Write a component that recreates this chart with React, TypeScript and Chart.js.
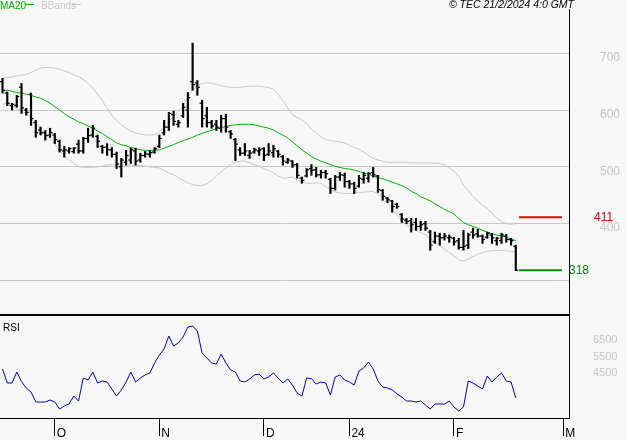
import { useEffect, useRef } from 'react';
import { Chart, registerables } from 'chart.js';

Chart.register(...registerables);

// ---- Data (trading-day index 0..108, mid-Sep 2023 to 20 Feb 2024) ----
const highs = [
  656, 632, 612, 626, 647, 603, 630, 582, 570, 564,
  568, 559, 547, 536, 534, 534, 547, 552, 568, 573,
  556, 538, 541, 534, 526, 515, 529, 533, 533, 524,
  527, 529, 534, 556, 582, 596, 598, 582, 612, 631,
  718, 652, 617, 605, 582, 582, 591, 593, 564, 550,
  534, 541, 529, 533, 534, 534, 541, 538, 529, 520,
  515, 511, 506, 482, 497, 504, 499, 494, 494, 480,
  485, 490, 489, 476, 473, 485, 490, 490, 499, 485,
  460, 446, 441, 436, 418, 409, 409, 409, 404, 404,
  388, 385, 383, 383, 380, 376, 374, 388, 383, 392,
  390, 380, 385, 383, 376, 383, 381, 374, 362,
];
const lows = [
  630, 608, 600, 605, 594, 591, 573, 552, 556, 547,
  552, 541, 526, 517, 524, 524, 524, 524, 543, 552,
  534, 524, 520, 517, 497, 482, 503, 506, 503, 508,
  517, 517, 524, 534, 556, 564, 573, 570, 587, 570,
  635, 626, 570, 570, 568, 564, 561, 561, 550, 511,
  520, 520, 515, 524, 520, 511, 520, 517, 517, 503,
  506, 499, 480, 471, 482, 485, 482, 480, 480, 453,
  459, 476, 464, 462, 453, 464, 471, 473, 482, 455,
  441, 437, 420, 427, 402, 400, 385, 388, 388, 388,
  353, 365, 362, 371, 367, 362, 355, 353, 356, 374,
  376, 365, 374, 365, 362, 365, 367, 362, 317,
];
const opens = [
  650, 630, 608, 608, 640, 600, 628, 578, 565, 560,
  556, 556, 545, 528, 528, 527, 540, 528, 550, 556,
  554, 536, 535, 530, 522, 500, 508, 512, 528, 512,
  520, 522, 526, 536, 560, 570, 592, 575, 590, 600,
  650, 648, 612, 590, 578, 575, 568, 585, 562, 548,
  530, 524, 520, 526, 528, 532, 522, 525, 528, 518,
  508, 510, 504, 480, 484, 497, 495, 486, 490, 478,
  462, 482, 485, 474, 470, 466, 478, 480, 490, 484,
  458, 445, 440, 434, 416, 406, 405, 402, 395, 400,
  385, 368, 378, 375, 375, 374, 370, 358, 362, 385,
  382, 378, 376, 380, 370, 370, 378, 372, 360,
];
const closes = [
  635, 612, 610, 624, 604, 596, 585, 560, 560, 555,
  560, 548, 530, 530, 532, 533, 528, 550, 555, 568,
  545, 534, 530, 522, 505, 512, 520, 530, 510, 520,
  523, 525, 532, 550, 570, 594, 580, 578, 605, 622,
  645, 640, 585, 578, 572, 570, 585, 570, 558, 540,
  524, 528, 524, 530, 530, 520, 528, 532, 522, 510,
  512, 503, 485, 476, 495, 494, 486, 490, 488, 462,
  482, 486, 474, 470, 462, 480, 485, 488, 486, 460,
  448, 442, 430, 430, 408, 404, 398, 395, 398, 392,
  362, 378, 375, 378, 376, 368, 358, 360, 380, 380,
  378, 372, 383, 375, 374, 380, 372, 370, 318,
];
const ma20 = [
  634, 635, 633, 631, 630, 628, 626, 623, 621, 617,
  612, 606, 600, 594, 588, 584, 579, 576, 572, 568,
  563, 559, 553, 548, 542, 539, 537, 534, 532, 530,
  529, 529, 529, 530, 533, 536, 539, 543, 546, 549,
  552, 556, 559, 562, 564, 567, 569, 571, 573, 574,
  575, 575, 575, 574, 572, 570, 568, 565, 560, 556,
  551, 544, 537, 530, 524, 518, 514, 510, 507, 504,
  501, 499, 497, 496, 494, 492, 489, 487, 484, 481,
  479, 476, 473, 470, 467, 463, 457, 453, 447, 444,
  440, 435, 430, 425, 421, 417, 409, 402, 398, 395,
  392, 388, 385, 382, 380, 378, 376, 373, 370,
];
const bbUpper = [
  656, 657, 658, 660, 661, 663, 666, 670, 674, 675,
  675, 674, 672, 669, 666, 662, 659, 654, 647, 639,
  628, 617, 603, 591, 582, 574, 568, 563, 560, 558,
  556, 556, 557, 561, 570, 580, 589, 597, 608, 623,
  635, 643, 647, 648, 647, 645, 643, 641, 640, 640,
  640, 641, 642, 642, 642, 641, 640, 637, 628, 617,
  604, 592, 587, 583, 576, 567, 560, 553, 548, 546,
  545, 544, 542, 538, 534, 531, 526, 520, 515, 512,
  510, 508, 508, 508, 508, 508, 507, 507, 507, 507,
  507, 506, 506, 503, 498, 492, 484, 468, 458, 448,
  440, 432, 427, 418, 410, 403, 400, 399, 400,
];
const bbLower = [
  610, 612, 607, 602, 599, 593, 585, 576, 567, 559,
  550, 540, 529, 519, 512, 506, 500, 499, 499, 499,
  500, 501, 503, 504, 503, 503, 503, 503, 503, 502,
  501, 500, 499, 498, 494, 489, 486, 481, 476, 472,
  469, 467, 467, 470, 476, 484, 491, 498, 504, 508,
  510, 510, 507, 504, 501, 497, 494, 489, 484, 480,
  481, 482, 477, 473, 471, 471, 472, 471, 465, 460,
  456, 454, 453, 453, 454, 455, 455, 456, 457, 452,
  445, 436, 425, 415, 405, 397, 393, 388, 384, 380,
  374, 368, 362, 355, 349, 343, 336, 334, 338, 342,
  346, 349, 351, 352, 353, 353, 352, 351, 350,
];
const rsi = [
  47.6, 39.2, 39.2, 45.8, 40, 36.2, 33.8, 27.8, 27.8, 27.8,
  29, 27.8, 23.6, 25.4, 26.6, 31.4, 28.4, 42.2, 41, 45.8,
  39.2, 40.4, 39.8, 35.6, 31.4, 35, 39.8, 45.8, 39.8, 42.2,
  44, 45.2, 51.2, 56, 59.6, 67.4, 61.4, 63.2, 66.8, 72.8,
  73.4, 70.4, 57.2, 54.2, 51.2, 50.6, 56.6, 51.2, 47, 45.8,
  40.4, 39.8, 41.6, 44, 44.6, 41.6, 42.8, 45.2, 42.2, 39.2,
  41.6, 38, 33.2, 31.4, 42.2, 41.8, 38.6, 39.8, 39.2, 32,
  42.8, 44, 41, 39.8, 38, 46.4, 48.2, 51.8, 47.6, 40.4,
  36.8, 36.2, 35, 32.6, 30.8, 28.4, 28.4, 27.8, 28.4, 26,
  23.6, 26.6, 26.6, 26.6, 28.4, 24.8, 22.4, 24.8, 40.4, 39.2,
  37.4, 35.6, 43.4, 39.8, 42.8, 45.2, 40.4, 39.8, 30.2,
];
const monthTickIndex = [11, 33, 55, 73, 95, 118];
const monthTickLabels = ['O', 'N', 'D', '24', 'F', 'M'];
const priceTicks = [300, 400, 500, 600, 700];
const priceTickLabels = ['', '400', '500', '600', '700'];
const rsiTicks = [45, 55, 65];
const rsiTickLabels = ['4500', '5500', '6500'];
const resistanceLevel = 411;
const supportLevel = 318;
const levelSpan = [108.7, 117.7];

// ---- Styles ----
const BG = '#f8f8f8';
const MA_COLOR = '#00b400';
const BB_COLOR = '#c8c8c8';
const GRID_COLOR = '#c8c8c8';
const LABEL_GRAY = '#c4c4c4';
const RSI_COLOR = '#0000cc';
const RED = '#e00000';
const GREEN = '#008c00';
const FONT = '"Liberation Sans", Arial, sans-serif';

const pts = (arr: number[]) => arr.map((v, i) => ({ x: i, y: v }));

const decorPlugin = {
  id: 'decor',
  afterDraw(chart: any) {
    const ctx = chart.ctx as CanvasRenderingContext2D;
    const area = chart.chartArea;
    const ys = chart.scales.y;
    ctx.save();
    // separator between price panel and RSI panel
    ctx.fillStyle = '#000';
    ctx.fillRect(area.left, ys.bottom, area.right - area.left, 2);

    // legend
    ctx.font = `10px ${FONT}`;
    ctx.textAlign = 'left';
    ctx.textBaseline = 'alphabetic';
    ctx.fillStyle = MA_COLOR;
    ctx.fillText('MA20', 0, 8.5);
    ctx.strokeStyle = MA_COLOR;
    ctx.lineWidth = 1;
    ctx.beginPath();
    ctx.moveTo(25, 4.5);
    ctx.lineTo(34, 4.5);
    ctx.stroke();
    ctx.fillStyle = BB_COLOR;
    ctx.fillText('BBands', 41, 8.5);
    ctx.strokeStyle = BB_COLOR;
    ctx.beginPath();
    ctx.moveTo(72, 4.5);
    ctx.lineTo(81, 4.5);
    ctx.stroke();

    // copyright
    ctx.font = `italic 10.5px ${FONT}`;
    ctx.textAlign = 'right';
    ctx.fillStyle = '#000';
    ctx.fillText('\u00a9 TEC 21/2/2024 4:0 GMT', 574, 8);

    // RSI label
    ctx.font = `10px ${FONT}`;
    ctx.textAlign = 'left';
    ctx.fillText('RSI', 3, 331);

    // level labels
    ctx.font = `12px ${FONT}`;
    ctx.textBaseline = 'middle';
    ctx.fillStyle = RED;
    ctx.fillText(String(resistanceLevel), 594, ys.getPixelForValue(resistanceLevel) + 0.5);
    ctx.fillStyle = GREEN;
    ctx.fillText(String(supportLevel), 569, ys.getPixelForValue(supportLevel) + 0.5);
    ctx.restore();
  },
};

export default function App() {
  const ref = useRef<HTMLCanvasElement>(null);

  useEffect(() => {
    if (!ref.current) return;
    const chart = new Chart(ref.current, {
      type: 'bar',
      data: {
        datasets: [
          {
            type: 'bar',
            data: highs.map((h, i) => ({ x: i, y: [lows[i], h] })) as any,
            backgroundColor: '#000',
            borderWidth: 0,
            barThickness: 1.5,
            yAxisID: 'y',
          },
          {
            type: 'line',
            data: pts(opens),
            showLine: false,
            pointStyle: 'dash',
            pointRadius: 2.5,
            pointRotation: 180,
            pointBorderColor: '#000',
            pointBorderWidth: 1.2,
            pointBackgroundColor: '#000',
            yAxisID: 'y',
          },
          {
            type: 'line',
            data: pts(closes),
            showLine: false,
            pointStyle: 'dash',
            pointRadius: 2.5,
            pointRotation: 0,
            pointBorderColor: '#000',
            pointBorderWidth: 1.2,
            pointBackgroundColor: '#000',
            yAxisID: 'y',
          },
          {
            type: 'line',
            data: pts(ma20),
            borderColor: MA_COLOR,
            borderWidth: 1,
            pointRadius: 0,
            tension: 0,
            yAxisID: 'y',
          },
          {
            type: 'line',
            data: pts(bbUpper),
            borderColor: BB_COLOR,
            borderWidth: 1,
            pointRadius: 0,
            tension: 0,
            yAxisID: 'y',
          },
          {
            type: 'line',
            data: pts(bbLower),
            borderColor: BB_COLOR,
            borderWidth: 1,
            pointRadius: 0,
            tension: 0,
            yAxisID: 'y',
          },
          {
            type: 'line',
            data: levelSpan.map((x) => ({ x, y: resistanceLevel })),
            borderColor: RED,
            borderWidth: 2,
            pointRadius: 0,
            yAxisID: 'y',
          },
          {
            type: 'line',
            data: levelSpan.map((x) => ({ x, y: supportLevel })),
            borderColor: GREEN,
            borderWidth: 2,
            pointRadius: 0,
            yAxisID: 'y',
          },
          {
            type: 'line',
            data: pts(rsi),
            borderColor: RSI_COLOR,
            borderWidth: 1,
            pointRadius: 0,
            tension: 0,
            yAxisID: 'rsi',
          },
        ] as any,
      },
      options: {
        animation: false,
        responsive: false,
        events: [],
        layout: { autoPadding: false, padding: { top: 9, left: 0, right: 0, bottom: 0 } },
        plugins: { legend: { display: false }, tooltip: { enabled: false } },
        scales: {
          x: {
            type: 'linear',
            min: -0.53,
            max: 119.2,
            offset: false,
            afterBuildTicks: (s: any) => {
              s.ticks = monthTickIndex.map((v) => ({ value: v }));
            },
            afterFit: (s: any) => {
              s.height = 22;
              s.paddingLeft = 0;
              s.paddingRight = 0;
            },
            grid: {
              display: true,
              drawOnChartArea: false,
              drawTicks: true,
              tickLength: 18,
              color: '#000',
              lineWidth: 1,
              offset: false,
            },
            border: { display: true, color: '#000', width: 1 },
            ticks: {
              align: 'start',
              padding: -10,
              labelOffset: 2,
              color: '#000',
              font: { family: FONT, size: 12 },
              maxRotation: 0,
              autoSkip: false,
              callback: (v: any) => {
                const k = monthTickIndex.indexOf(Number(v));
                return k >= 0 ? monthTickLabels[k] : '';
              },
            },
          },
          y: {
            type: 'linear',
            position: 'right',
            stack: 'panes',
            stackWeight: 305,
            min: 240.7,
            max: 778.1,
            beginAtZero: false,
            afterBuildTicks: (s: any) => {
              s.ticks = priceTicks.map((v) => ({ value: v }));
            },
            afterFit: (s: any) => {
              s.width = 58;
              s.paddingTop = 0;
              s.paddingBottom = 0;
            },
            grid: { color: GRID_COLOR, lineWidth: 1, drawTicks: false },
            border: { display: true, color: '#000', width: 1 },
            ticks: {
              padding: 31,
              labelOffset: 4.5,
              color: LABEL_GRAY,
              font: { family: FONT, size: 12 },
              callback: (v: any) => {
                const k = priceTicks.indexOf(Number(v));
                return k >= 0 ? priceTickLabels[k] : '';
              },
            },
          },
          rsi: {
            type: 'linear',
            axis: 'y',
            position: 'right',
            stack: 'panes',
            stackWeight: 104,
            min: 18.2,
            max: 80.6,
            beginAtZero: false,
            afterBuildTicks: (s: any) => {
              s.ticks = rsiTicks.map((v) => ({ value: v }));
            },
            afterFit: (s: any) => {
              s.width = 58;
              s.paddingTop = 0;
              s.paddingBottom = 0;
            },
            grid: { display: false, drawTicks: false, tickLength: 0 },
            border: { display: true, color: '#000', width: 1 },
            ticks: {
              padding: 24,
              color: LABEL_GRAY,
              font: { family: FONT, size: 11 },
              callback: (v: any) => {
                const k = rsiTicks.indexOf(Number(v));
                return k >= 0 ? rsiTickLabels[k] : '';
              },
            },
          },
        } as any,
      },
      plugins: [decorPlugin],
    });
    return () => chart.destroy();
  }, []);

  return (
    <div
      style={{
        position: 'absolute',
        left: 0,
        top: 0,
        width: 627,
        height: 440,
        background: BG,
        overflow: 'hidden',
      }}
    >
      <canvas ref={ref} width={627} height={440} style={{ display: 'block', width: 627, height: 440 }} />
    </div>
  );
}
